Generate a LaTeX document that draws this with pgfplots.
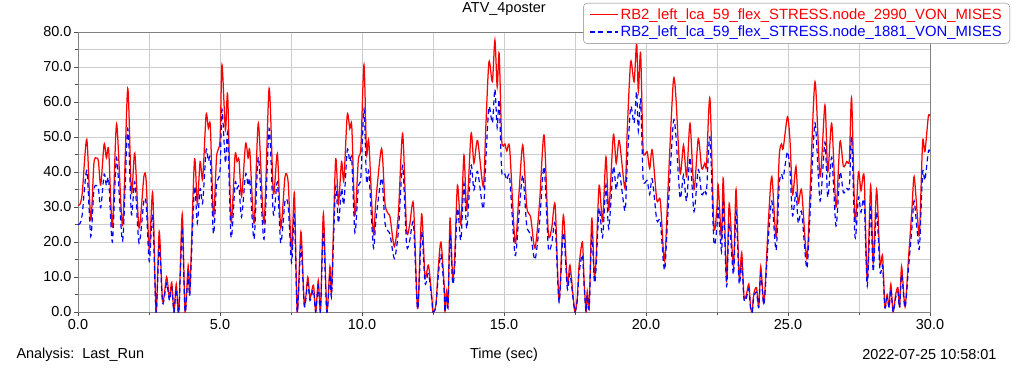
\documentclass[border=0pt]{standalone}
\usepackage{pgfplots}
\pgfplotsset{compat=1.18}
\usepackage{pgfplotstable}
\usepackage{fontspec}
\setmainfont{Liberation Sans}
\definecolor{gridc}{RGB}{205,205,205}
\definecolor{framec}{RGB}{130,130,130}

\pgfplotstableread{
t r b
0.0 30.5 25.0
0.07 30.8 25.3
0.15 34 27.9
0.31 49.3 40.4
0.45 26.3 21.6
0.56 42.5 34.9
0.66 44 36.1
0.72 43 35.3
0.8 36.3 29.8
0.92 48 39.4
1.0 44 36.1
1.08 46.3 38.0
1.21 24.4 20.0
1.36 53.7 44.0
1.57 24.8 20.3
1.75 63.9 52.4
1.88 34 27.9
2.0 45.4 37.2
2.15 24 19.7
2.32 38.7 31.7
2.4 37.5 30.8
2.51 17.7 14.5
2.63 34 27.9
2.75 0 0
2.86 23 18.9
2.98 3 2.5
3.12 10 8.2
3.22 4 3.3
3.3 8.5 7.0
3.38 0 0
3.46 8 6.6
3.55 0 0
3.67 28 23.0
3.77 0 0
3.88 13.4 11.0
3.94 6.3 5.2
4.1 43.4 35.6
4.2 31 25.4
4.3 43 35.3
4.39 38 31.2
4.51 56.3 46.2
4.59 52.5 43.1
4.66 53 43.5
4.77 27.2 22.3
4.88 44.4 36.4
5.0 49 40.2
5.07 70.6 57.9
5.19 52 42.6
5.27 62 50.8
5.39 25.8 21.2
5.53 44.8 36.7
5.6 43 35.3
5.67 43.5 35.7
5.76 33 27.1
5.9 48 39.4
5.99 44 36.1
6.05 46 37.7
6.2 25.4 20.8
6.35 53.9 44.2
6.55 25.4 20.8
6.73 63.9 52.4
6.88 33.9 27.8
7.02 45.3 37.1
7.14 24 19.7
7.29 38.7 31.7
7.4 37 30.3
7.52 17.2 14.1
7.62 33.9 27.8
7.72 0 0
7.85 22.9 18.8
7.97 2 1.6
8.09 10 8.2
8.17 4 3.3
8.29 7.7 6.3
8.37 0 0
8.46 9 7.4
8.54 0.5 0.4
8.64 28.2 23.1
8.76 0 0
8.87 13 10.7
8.93 6 4.9
9.07 43.4 35.6
9.17 31 25.4
9.28 43 35.3
9.36 37.6 30.8
9.48 56.3 46.2
9.57 52.4 43.0
9.64 53 43.5
9.75 27.7 22.7
9.87 43.4 35.6
9.96 47 38.5
10.07 70.6 57.9
10.16 45.3 37.1
10.24 48.7 39.9
10.4 22.5 18.5
10.49 32 26.2
10.69 46.7 38.3
10.81 31 25.4
10.93 28 23.0
10.99 27 22.1
11.14 18.7 15.3
11.28 28 23.0
11.43 51 41.8
11.57 23.4 19.2
11.68 25 20.5
11.81 31 25.4
11.93 4.4 3.6
11.98 2.5 2.1
12.1 28 23.0
12.22 10 8.2
12.34 13.4 11.0
12.46 4 3.3
12.5 0 0
12.6 2 1.6
12.69 13 10.7
12.78 20 16.4
12.89 8 6.6
12.92 0 0
12.98 6 4.9
13.03 2 1.6
13.1 26.8 22.0
13.19 10 8.2
13.26 14.8 12.1
13.36 36.2 29.7
13.48 25 20.5
13.59 44.8 36.7
13.69 29 23.8
13.84 51 41.8
13.94 42.5 34.9
14.07 49 40.2
14.27 35.8 29.4
14.36 53 43.5
14.47 71.5 58.6
14.59 65.8 54.0
14.68 77.7 63.7
14.76 64.3 52.7
14.83 73.9 60.6
14.92 49 40.2
15.03 48 39.4
15.1 46 37.7
15.2 46.7 38.3
15.39 19.7 16.2
15.52 33 27.1
15.66 47.7 39.1
15.8 30.1 24.7
15.94 27 22.1
16.09 18.2 14.9
16.25 31 25.4
16.41 50.6 41.5
16.56 22.5 18.5
16.68 24 19.7
16.8 30.6 25.1
16.94 3.4 2.8
17.09 27.7 22.7
17.23 8 6.6
17.32 13.4 11.0
17.44 4 3.3
17.5 0 0
17.58 4 3.3
17.64 13 10.7
17.76 20 16.4
17.82 9 7.4
17.89 0 0
17.93 6 4.9
18.0 1.5 1.2
18.09 26.8 22.0
18.18 10.5 8.6
18.24 15 12.3
18.35 36.2 29.7
18.47 26 21.3
18.59 44.3 36.3
18.69 29 23.8
18.85 50.6 41.5
18.95 42.5 34.9
19.06 49 40.2
19.26 35.3 28.9
19.34 52 42.6
19.46 71.5 58.6
19.58 65.8 54.0
19.67 76.8 63.0
19.73 63 51.7
19.81 74 60.7
19.9 46.3 38.0
20.04 45.8 37.6
20.13 41 33.6
20.22 46.3 38.0
20.38 32 26.2
20.5 32 26.2
20.61 17.7 14.5
20.67 15.5 12.7
20.78 36 29.5
20.96 65.8 54.0
21.05 61.7 50.6
21.2 39.7 32.6
21.32 47.7 39.1
21.43 38.7 31.7
21.55 53.9 44.2
21.69 35 28.7
21.84 49.6 40.7
21.96 41 33.6
22.07 42.5 34.9
22.13 42 34.4
22.25 61 50.0
22.39 24.4 20.0
22.5 30 24.6
22.54 36.4 29.8
22.66 21 17.2
22.72 38.2 31.3
22.84 9 7.4
22.93 31 25.4
23.08 13 10.7
23.17 35 28.7
23.28 10 8.2
23.37 17 13.9
23.45 4.4 3.6
23.53 4.8 3.9
23.62 8 6.6
23.68 1.5 1.2
23.74 0 0
23.79 5 4.1
23.89 7 5.7
23.97 1.5 1.2
24.04 13 10.7
24.14 2.5 2.1
24.2 8 6.6
24.31 26 21.3
24.43 38.7 31.7
24.58 21.5 17.6
24.69 44.4 36.4
24.77 48 39.4
24.83 46.7 38.3
24.98 55.8 45.8
25.07 49 40.2
25.16 33.5 27.5
25.28 41.6 34.1
25.36 31 25.4
25.48 34.7 28.5
25.66 15.3 12.5
25.77 33 27.1
25.95 65.8 54.0
26.13 38.7 31.7
26.3 59.1 48.5
26.4 40 32.8
26.54 53.9 44.2
26.69 30 24.6
26.83 48.7 39.9
26.95 41.6 34.1
27.07 43 35.3
27.16 43.5 35.7
27.24 61 50.0
27.36 26 21.3
27.48 40 32.8
27.57 34.7 28.5
27.68 38.7 31.7
27.79 9 7.4
27.91 36.2 29.7
28.0 14 11.5
28.12 35 28.7
28.24 14 11.5
28.33 16 13.1
28.41 1.5 1.2
28.49 5 4.1
28.56 1.5 1.2
28.62 8 6.6
28.7 0 0
28.79 5 4.1
28.87 7 5.7
28.93 1.5 1.2
29.0 13 10.7
29.12 1.5 1.2
29.24 15 12.3
29.36 29 23.8
29.44 38.7 31.7
29.56 27 22.1
29.63 22.5 18.5
29.74 48.7 39.9
29.82 45.8 37.6
29.94 55.8 45.8
30.0 56 45.9
}\data

\begin{document}
\begin{tikzpicture}[x=1bp,y=1bp,font=\fontsize{14.5}{17}\selectfont]
\path[use as bounding box] (0,0) rectangle (1012,371);
\begin{axis}[
  at={(78bp,59bp)}, anchor=south west,
  scale only axis, width=852bp, height=280bp,
  xmin=0, xmax=30, ymin=0, ymax=80,
  xtick={0,5,...,30}, minor xtick={2.5,7.5,...,27.5},
  ytick={0,10,...,80}, minor ytick={5,15,...,75},
  grid=both,
  major grid style={gridc, line width=0.8bp},
  minor grid style={gridc, line width=0.8bp},
  axis line style={framec, line width=0.9bp},
  tick style={black!70, line width=0.8bp},
  tick align=outside, tick pos=left,
  major tick length=4bp, minor tick length=3bp,
  /pgf/number format/assume math mode=true,
  xticklabel={\pgfmathprintnumber[fixed,fixed zerofill,precision=1]{\tick}},
  yticklabel={\pgfmathprintnumber[fixed,fixed zerofill,precision=1]{\tick}},
  tick label style={font=\fontsize{14.5}{17}\selectfont},
  yticklabel style={xshift=1bp},
  title={ATV\_4poster},
  title style={at={(0.5,1)}, anchor=center, yshift=17bp, font=\fontsize{14.5}{17}\selectfont},
  xlabel={Time (sec)},
  xlabel style={at={(0.5,0)}, anchor=center, yshift=-43bp, font=\fontsize{14.5}{17}\selectfont},
  legend style={at={(1.0939,1.1036)}, anchor=north east, draw=framec, fill=white,
    rounded corners=4bp, font=\fontsize{14.9}{17}\selectfont, inner xsep=6bp, inner ysep=3.5bp,
    row sep=1bp, /tikz/every even column/.append style={column sep=0bp}},
  legend cell align=left,
  legend image code/.code={\draw[#1] (0bp,0bp) -- (28bp,0bp);},
  clip=true,
]
\addplot[red, line width=1.25bp, smooth, tension=0.45] table[x=t, y=r] {\data};
\addlegendentry{\textcolor{red}{RB2\_left\_lca\_59\_flex\_STRESS.node\_2990\_VON\_MISES}}
\addplot[blue, line width=1.2bp, dash pattern=on 5bp off 3.5bp, smooth, tension=0.45] table[x=t, y=b] {\data};
\addlegendentry{\textcolor{blue}{RB2\_left\_lca\_59\_flex\_STRESS.node\_1881\_VON\_MISES}}
\node[rotate=90, anchor=center] at (axis description cs:-0.0505,0.5) {newton/mm**2};
\end{axis}
\node[anchor=west] at (13,16) {Analysis:\ \ Last\_Run};
\node[anchor=east] at (1000,16) {2022-07-25 10:58:01};
\end{tikzpicture}
\end{document}
